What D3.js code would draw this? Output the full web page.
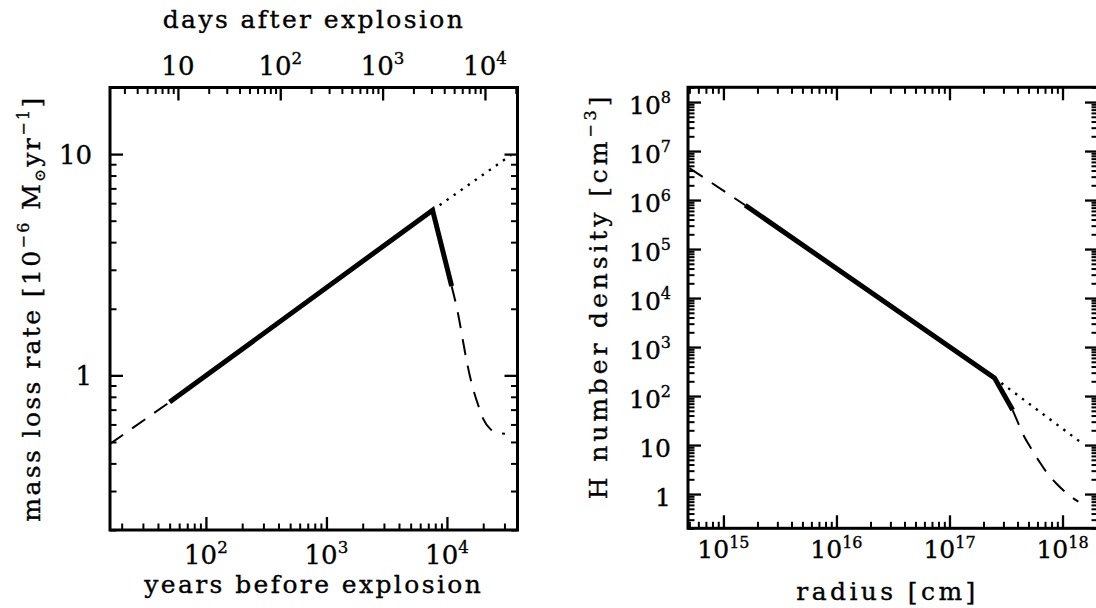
<!DOCTYPE html>
<html>
<head>
<meta charset="utf-8">
<script src="https://cdn.jsdelivr.net/npm/d3@7"></script>
<style>
  html, body { margin: 0; padding: 0; background: #fff; }
  svg { display: block; }
  text { font-family: "DejaVu Serif", serif; fill: #000; stroke: #000; stroke-width: 0.35px; }
</style>
</head>
<body>
<svg id="chart" width="1096" height="608"></svg>
<script>
// ---- Left panel: mass-loss history [years before explosion, 1e-6 Msun/yr] ----
const massLossEarlyDashed = [[16, 0.49], [50, 0.757]];
const massLossSolid = [[50, 0.757], [7600, 5.58], [10940, 2.53]];
const massLossLateDashed = [[10940, 2.53], [12030, 2.04], [14730, 1.13], [15520, 0.99],
  [18800, 0.695], [19900, 0.639], [23060, 0.57], [26500, 0.548], [30300, 0.545]];
const massLossDotted = [[7600, 5.58], [34000, 9.9]];

// ---- Right panel: hydrogen number density [radius cm, cm^-3] ----
const densityEarlyDashed = [[5.0e14, 4.5e6], [1.56e15, 7.83e5]];
const densitySolid = [[1.56e15, 7.83e5], [2.5e17, 235], [3.62e17, 51.8]];
const densityLateDashed = [[3.62e17, 51.8], [3.78e17, 41], [4.59e17, 14.8], [5.26e17, 8.6],
  [6.24e17, 4.58], [7.15e17, 2.87], [8.77e17, 1.66], [1.11e18, 1.0], [1.38e18, 0.70]];
const densityDotted = [[2.5e17, 235], [1.52e18, 10.5]];

// ---- Tick values and labels ----
const yearsTickValues = [1e2, 1e3, 1e4];
const yearsTickLabels = ["10^2", "10^3", "10^4"];
const daysTickValues = [10, 1e2, 1e3, 1e4];
const daysTickLabels = ["10", "10^2", "10^3", "10^4"];
const rateTickValues = [1, 10];
const rateTickLabels = ["1", "10"];
const radiusTickValues = [1e15, 1e16, 1e17, 1e18];
const radiusTickLabels = ["10^15", "10^16", "10^17", "10^18"];
const densityTickValues = [1, 10, 1e2, 1e3, 1e4, 1e5, 1e6, 1e7, 1e8];
const densityTickLabels = ["1", "10", "10^2", "10^3", "10^4", "10^5", "10^6", "10^7", "10^8"];

const svg = d3.select("#chart");

const MAJOR = 13, MINOR = 6.5;

// Panel frames
const L = { x0: 110, x1: 517.5, y0: 87.5, y1: 530 };
const R = { x0: 688, x1: 1098, y0: 87.3, y1: 528.3 };

const xYears = d3.scaleLog().domain([16, 38500]).range([L.x0, L.x1]);
const xDays = d3.scaleLog().domain([2.17, 20800]).range([L.x0, L.x1]);
const yRate = d3.scaleLog().domain([0.2, 20]).range([L.y1, L.y0]);

const xRad = d3.scaleLog().domain([4.86e14, 2.06e18]).range([R.x0, R.x1]);
const yDen = d3.scaleLog().domain([0.2, 2e8]).range([R.y1, R.y0]);

// 1..9 multiples of each decade, minus the labelled majors
function minorTicks(scale, majors) {
  const [a, b] = scale.domain();
  return scale.ticks(12).filter(v => v >= a && v <= b &&
    !majors.some(m => Math.abs(m - v) / m < 1e-9));
}

// Draws major + minor inward ticks with a d3 axis generator
function tickAxis(gen, scale, majors, transform) {
  const g = svg.append("g").attr("transform", transform);
  g.append("g").call(gen(scale).tickValues(majors).tickSize(-MAJOR).tickSizeOuter(0).tickFormat(""))
    .call(s => s.selectAll("line").attr("stroke-width", 2.3));
  g.append("g").call(gen(scale).tickValues(minorTicks(scale, majors)).tickSize(-MINOR).tickSizeOuter(0).tickFormat(""))
    .call(s => s.selectAll("line").attr("stroke-width", 2));
  g.selectAll(".domain").remove();
  g.selectAll("text").remove();
}

// Writes "10^n" style label with a raised exponent
function powerLabel(sel, str, size) {
  const parts = str.split("^");
  sel.append("tspan").text(parts[0]);
  if (parts.length > 1) {
    sel.append("tspan").attr("font-size", size * 0.64).attr("dy", -size * 0.42).text(parts[1]);
  }
}

function tickLabels(values, labels, posFn, anchor, size) {
  values.forEach((v, i) => {
    const [x, y] = posFn(v);
    const t = svg.append("text").attr("x", x).attr("y", y)
      .attr("text-anchor", anchor).attr("font-size", size);
    powerLabel(t, labels[i], size);
  });
}

// ---- Left panel axes ----
tickAxis(d3.axisBottom, xYears, yearsTickValues, `translate(0,${L.y1})`);
tickAxis(d3.axisTop, xDays, daysTickValues, `translate(0,${L.y0})`);
tickAxis(d3.axisLeft, yRate, rateTickValues, `translate(${L.x0},0)`);
tickAxis(d3.axisRight, yRate, rateTickValues, `translate(${L.x1},0)`);

tickLabels(yearsTickValues, yearsTickLabels, v => [xYears(v), 564], "middle", 26);
tickLabels(daysTickValues, daysTickLabels, v => [xDays(v), 75], "middle", 26);
tickLabels(rateTickValues, rateTickLabels, v => [92, yRate(v) + 10], "end", 26);

// ---- Right panel axes ----
tickAxis(d3.axisBottom, xRad, radiusTickValues, `translate(0,${R.y1})`);
tickAxis(d3.axisTop, xRad, radiusTickValues, `translate(0,${R.y0})`);
tickAxis(d3.axisLeft, yDen, densityTickValues, `translate(${R.x0},0)`);
tickAxis(d3.axisRight, yDen, densityTickValues, `translate(${R.x1},0)`);

tickLabels(radiusTickValues, radiusTickLabels, v => [xRad(v), 558], "middle", 25);
tickLabels(densityTickValues, densityTickLabels, v => [671, yDen(v) + 11.5], "end", 25);

// Frames
[L, R].forEach(p => {
  svg.append("rect").attr("x", p.x0).attr("y", p.y0)
    .attr("width", p.x1 - p.x0).attr("height", p.y1 - p.y0)
    .attr("fill", "none").attr("stroke", "#000").attr("stroke-width", 3);
});

// ---- Curves ----
function drawCurve(data, xs, ys, style, curve) {
  const line = d3.line().x(d => xs(d[0])).y(d => ys(d[1])).curve(curve || d3.curveLinear);
  const p = svg.append("path").datum(data).attr("d", line)
    .attr("fill", "none").attr("stroke", "#000");
  if (style === "solid") p.attr("stroke-width", 5).attr("stroke-linejoin", "miter");
  if (style === "dashed") p.attr("stroke-width", 2).attr("stroke-dasharray", "16,11");
  if (style === "dotted") p.attr("stroke-width", 2.4).attr("stroke-dasharray", "2.4,6.2");
}

drawCurve(massLossDotted, xYears, yRate, "dotted");
drawCurve(massLossEarlyDashed, xYears, yRate, "dashed");
drawCurve(massLossLateDashed, xYears, yRate, "dashed", d3.curveMonotoneX);
drawCurve(massLossSolid, xYears, yRate, "solid");

drawCurve(densityDotted, xRad, yDen, "dotted");
drawCurve(densityEarlyDashed, xRad, yDen, "dashed");
drawCurve(densityLateDashed, xRad, yDen, "dashed", d3.curveMonotoneX);
drawCurve(densitySolid, xRad, yDen, "solid");

// ---- Axis titles ----
const TITLE = 25;
function title(x, y, rotate, spacing) {
  return svg.append("text").attr("font-size", TITLE).attr("letter-spacing", spacing + "px")
    .attr("text-anchor", "middle")
    .attr("transform", `translate(${x},${y})` + (rotate ? " rotate(-90)" : ""));
}
title(313.75, 593, false, 2.4).text("years before explosion");
title(314, 28, false, 2.4).text("days after explosion");
title(887.5, 600, false, 3.4).text("radius [cm]");

const tl = title(40, 308.5, true, 2.4);
tl.append("tspan").text("mass loss rate [10");
tl.append("tspan").attr("font-size", 16).attr("dy", -11).text("−6");
tl.append("tspan").attr("dy", 11).text(" M");
tl.append("tspan").attr("font-size", 15).attr("dy", 5).text("⊙");
tl.append("tspan").attr("dy", -5).text("yr");
tl.append("tspan").attr("font-size", 16).attr("dy", -11).text("−1");
tl.append("tspan").attr("dy", 11).text("]");

const tr = title(607, 296, true, 3.9);
tr.append("tspan").text("H number density [cm");
tr.append("tspan").attr("font-size", 16).attr("dy", -11).text("−3");
tr.append("tspan").attr("dy", 11).text("]");
</script>
</body>
</html>
